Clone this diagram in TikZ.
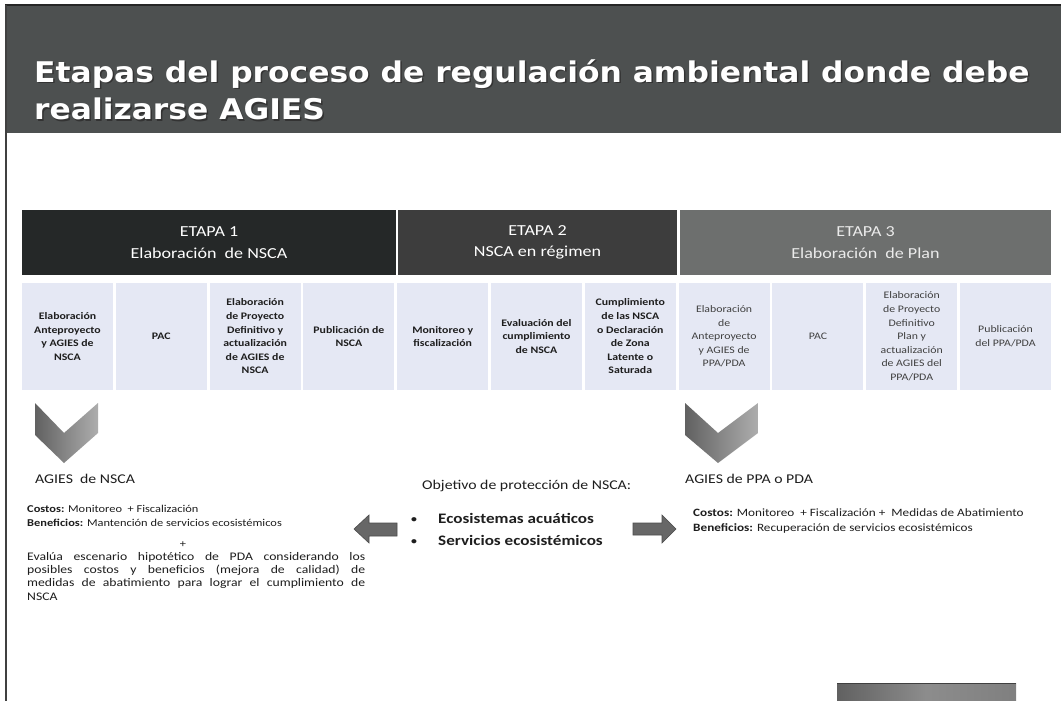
\documentclass[tikz,border=0pt]{standalone}
\usepackage{fontspec}
\setmainfont{Carlito}[FakeStretch=1.18]
\newfontfamily\titlefont{DejaVu Sans}[FakeStretch=1.1]
\definecolor{titlebar}{HTML}{4D5050}
\definecolor{etA}{HTML}{252828}
\definecolor{etB}{HTML}{3D3D3D}
\definecolor{etC}{HTML}{6D6F6E}
\definecolor{subfill}{HTML}{E5E8F4}
\definecolor{txt}{HTML}{1E1E1E}
\definecolor{arrowfill}{HTML}{676767}
\tikzset{
  titletext/.style={anchor=base west, inner sep=0, text=white, font=\titlefont\bfseries\fontsize{28.5}{32}\selectfont},
  hdr/.style={minimum width=#1, minimum height=65, inner sep=0, align=center, text=white, font=\fontsize{15.3}{21.5}\selectfont},
  subbox/.style={fill=subfill, minimum width=91, minimum height=107, inner sep=0, align=center, text=txt, font=\bfseries\fontsize{10}{13.6}\selectfont},
  subboxc/.style={subbox, text=black!75, font=\fontsize{10}{13.6}\selectfont},
  bigtxt/.style={anchor=base west, inner sep=0, text=txt, font=\fontsize{13.4}{16}\selectfont},
  bullettxt/.style={anchor=base west, inner sep=0, text=txt, font=\bfseries\fontsize{14.5}{17}\selectfont},
  bulletdot/.style={anchor=base west, inner sep=0, text=txt, font=\bfseries\fontsize{10}{12}\selectfont},
  smalltxt/.style={anchor=base west, inner sep=0, text=txt, font=\fontsize{10.5}{13.3}\selectfont},
  partxt/.style={anchor=north west, inner sep=0, text=txt, font=\fontsize{11.6}{13.3}\selectfont, text width=338, align=justify},
  smalltxtr/.style={smalltxt, font=\fontsize{11.2}{14}\selectfont},
  blockarrow/.style={fill=arrowfill, draw=black!70, line width=0.6},
  chevron/.style={left color=black!62, right color=black!32, shading angle=90},
}
\begin{document}
\begin{tikzpicture}[x=1pt,y=-1pt]
\useasboundingbox (0,0) rectangle (1061,701);
\fill[white] (0,0) rectangle (1061,701);
% title bar
\fill[titlebar] (5,5) rectangle (1061,133);
\draw[black!85, line width=1.5] (5,5) -- (1061,5);
\draw[black!75, line width=2] (6,5) -- (6,701);
\node[titletext, text=black!80] (t1s) at (35.5,83.5) {Etapas del proceso de regulación ambiental donde debe};
\node[titletext] (t1) at (34,82) {Etapas del proceso de regulación ambiental donde debe};
\node[titletext, text=black!80] (t2s) at (35.5,121.5) {realizarse AGIES};
\node[titletext] (t2) at (34,120) {realizarse AGIES};
% headers
\node[hdr=374, fill=etA] (h1) at (209,242.5) {ETAPA 1\\Elaboración~~de NSCA};
\node[hdr=279, fill=etB] (h2) at (537.5,242.5) {ETAPA 2\\NSCA en régimen};
\node[hdr=371, fill=etC, text=black!8] (h3) at (865.5,242.5) {ETAPA 3\\Elaboración~~de Plan};
% sub boxes
\foreach \i/\t in {0/{Elaboración\\Anteproyecto\\y AGIES de\\NSCA},
                   1/{PAC},
                   2/{Elaboración\\de Proyecto\\Definitivo y\\actualización\\de AGIES de\\NSCA},
                   3/{Publicación de\\NSCA},
                   4/{Monitoreo y\\fiscalización},
                   5/{Evaluación del\\cumplimiento\\de NSCA},
                   6/{Cumplimiento\\de las NSCA\\o Declaración\\de Zona\\Latente o\\Saturada}}
  \node[subbox] (b\i) at ({22+\i*93.8+45.5},336.5) {\t};
\foreach \i/\t in {7/{Elaboración\\de\\Anteproyecto\\y AGIES de\\PPA/PDA},
                   8/{PAC},
                   9/{Elaboración\\de Proyecto\\Definitivo\\Plan y\\actualización\\de AGIES del\\PPA/PDA},
                   10/{Publicación\\del PPA/PDA}}
  \node[subboxc] (b\i) at ({22+\i*93.8+45.5},336.5) {\t};
% chevrons
\shade[chevron] (35,403) -- (64,433) -- (98,403) -- (98,433) -- (64,463) -- (35,435) -- cycle;
\shade[chevron] (685,403) -- (718,433) -- (758,403) -- (758,433) -- (718,463) -- (685,435) -- cycle;
% left column
\node[bigtxt] (agl) at (35,483) {AGIES~ de NSCA};
\node[smalltxt] (cl) at (27,512) {\textbf{Costos:} Monitoreo~ + Fiscalización};
\node[smalltxt] (bl) at (27,526) {\textbf{Beneficios:} Mantención de servicios ecosistémicos};
\node[smalltxt, anchor=base] (plus) at (183,547) {+};
\node[partxt] (par) at (27,552)
  {Evalúa escenario hipotético de PDA considerando los\linebreak posibles costos y beneficios (mejora de calidad) de\linebreak medidas de abatimiento para lograr el cumplimiento de\linebreak NSCA};
% centre
\node[bigtxt] (obj) at (422,489) {Objetivo de protección de NSCA:};
\node[bulletdot] (d1) at (411,522) {•};
\node[bulletdot] (d2) at (411,544) {•};
\node[bullettxt] (e1) at (438,523) {Ecosistemas acuáticos};
\node[bullettxt] (e2) at (438,545) {Servicios ecosistémicos};
% block arrows
\filldraw[blockarrow] (354,529) -- (369,515) -- (369,523) -- (397,523) -- (397,536) -- (369,536) -- (369,543) -- cycle;
\filldraw[blockarrow] (676,529) -- (662,515) -- (662,523) -- (633,523) -- (633,535) -- (662,535) -- (662,543) -- cycle;
% right column
\node[bigtxt] (agr) at (685,483) {AGIES de PPA o PDA};
\node[smalltxtr] (cr) at (693,516) {\textbf{Costos:} Monitoreo~~+ Fiscalización +~~Medidas de Abatimiento};
\node[smalltxtr] (br) at (693,531) {\textbf{Beneficios:} Recuperación de servicios ecosistémicos};
% bottom box
\shade[left color=black!62, right color=black!50, middle color=black!45] (837,683) rectangle (1016,701);
\draw[black!75, line width=1] (837,683) -- (1016,683);
\end{tikzpicture}
\end{document}
